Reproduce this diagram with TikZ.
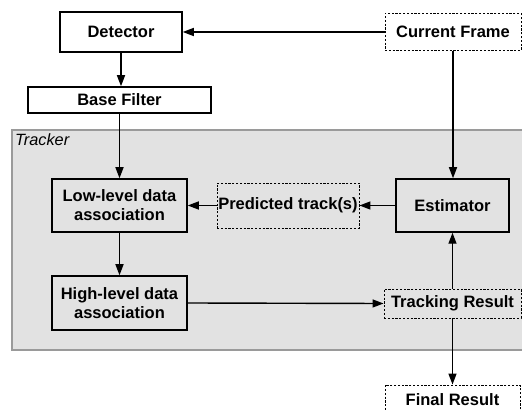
\documentclass[tikz,border=0pt]{standalone}
\usepackage{fontspec}
\setmainfont{Liberation Sans}
\usetikzlibrary{arrows.meta}
\definecolor{trackfill}{HTML}{E2E2E2}
\definecolor{trackline}{HTML}{9A9A9A}
\tikzset{
  box/.style={draw=black, line width=1.5pt, inner sep=0pt, align=center,
    font=\fontsize{16.5}{19}\selectfont\bfseries},
  dbox/.style={box, line width=0.9pt, dash pattern=on 2.2pt off 1.6pt},
  conn/.style={line width=1.4pt, -{Triangle[length=11pt,width=8pt]}},
}
\begin{document}
\begin{tikzpicture}[x=1pt,y=-1pt]
\clip (0,0) rectangle (522,411);
\fill[white] (0,0) rectangle (522,411);
% tracker region
\draw[trackline, fill=trackfill, line width=1.2pt] (12,130) rectangle (540,350);
\node[anchor=base west, inner xsep=0pt, font=\fontsize{16.3}{18}\selectfont\itshape] (trk) at (15,146) {Tracker};
% nodes
\node[box, minimum width=122pt, minimum height=40pt] (det) at (121,32) {Detector};
\node[dbox, minimum width=136pt, minimum height=37pt] (cf) at (453,32) {Current Frame};
\node[box, minimum width=183pt, minimum height=26pt] (bf) at (119.5,100) {Base Filter};
\node[box, minimum width=135pt, minimum height=53pt] (low) at (119.5,205.5) {Low-level data\\association};
\node[dbox, minimum width=142pt, minimum height=45pt] (pred) at (288,205.5) {Predicted track(s)};
\node[box, minimum width=113pt, minimum height=53pt] (est) at (452.5,205.5) {Estimator};
\node[box, minimum width=135pt, minimum height=54pt] (high) at (119.5,303) {High-level data\\association};
\node[dbox, minimum width=137pt, minimum height=29pt] (tr) at (452.5,303.5) {Tracking Result};
\node[dbox, minimum width=135pt, minimum height=30pt] (fr) at (452.5,400) {Final Result};
% connectors
\draw[conn] (cf.west) -- (det.east);
\draw[conn] (det.south) -- (det.south |- bf.north);
\draw[conn] (bf.south -| low.north) -- (low.north);
\draw[conn] (cf.south) -- (cf.south |- est.north);
\draw[conn] (est.west) -- (pred.east);
\draw[conn] (pred.west) -- (low.east);
\draw[conn] (low.south) -- (high.north);
\draw[conn] (high.east) -- (tr.west);
\draw[conn] (tr.north) -- (est.south);
\draw[conn] (tr.south) -- (fr.north);
\end{tikzpicture}
\end{document}
